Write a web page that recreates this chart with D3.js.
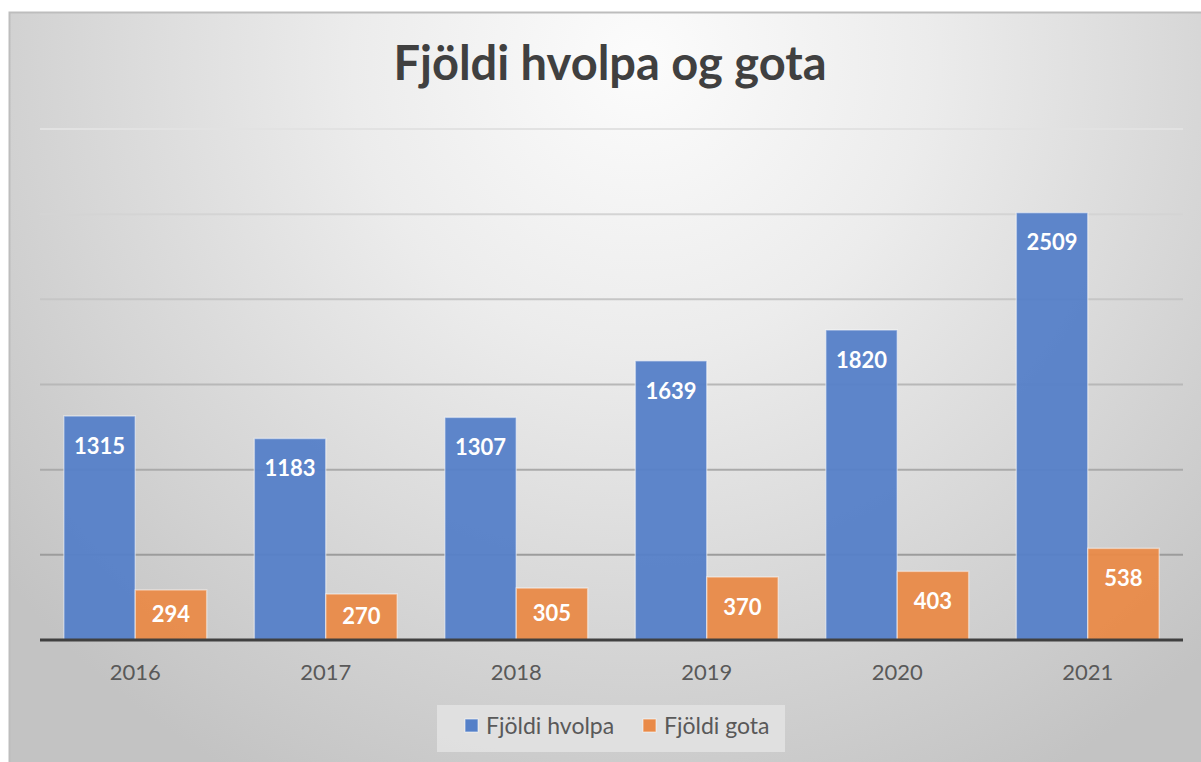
<!DOCTYPE html>
<html>
<head>
<meta charset="utf-8">
<script src="https://cdn.jsdelivr.net/npm/d3@7"></script>
<style>
  body { margin: 0; background: #fff; }
  svg { display: block; }
</style>
</head>
<body>
<div id="chart"></div>
<script>
// Data
const years = ["2016", "2017", "2018", "2019", "2020", "2021"];
const hvolpar = [1315, 1183, 1307, 1639, 1820, 2509];
const gotur = [294, 270, 305, 370, 403, 538];
const seriesNames = ["Fjöldi hvolpa", "Fjöldi gota"];
const seriesColors = ["#5580c8", "#e98a48"];
const yTicks = [0, 500, 1000, 1500, 2000, 2500, 3000];

const W = 1201, H = 762;
const font = "Lato, 'Open Sans', sans-serif";

const svg = d3.select("#chart")
    .append("svg")
    .attr("width", W)
    .attr("height", H);

// Background gradient
const defs = svg.append("defs");
const grad = defs.append("radialGradient")
    .attr("id", "bg")
    .attr("gradientUnits", "userSpaceOnUse")
    .attr("cx", 640).attr("cy", 60).attr("r", 820);
grad.append("stop").attr("offset", "0").attr("stop-color", "#fcfcfc");
grad.append("stop").attr("offset", "0.35").attr("stop-color", "#ececec");
grad.append("stop").attr("offset", "1").attr("stop-color", "#c3c3c3");

svg.append("rect")
    .attr("x", 9).attr("y", 12)
    .attr("width", W - 9).attr("height", H - 12)
    .attr("fill", "url(#bg)");
// thin border top / left
svg.append("path")
    .attr("d", `M9.5,${H} V12.5 H${W}`)
    .attr("fill", "none")
    .attr("stroke", "#bdbdbd")
    .attr("stroke-width", 2);

// Scales
const x0 = d3.scaleBand()
    .domain(years)
    .range([40, 1183])
    .paddingInner(0.25)
    .paddingOuter(0.125);

const x1 = d3.scaleBand()
    .domain([0, 1])
    .range([0, x0.bandwidth()]);

const y = d3.scaleLinear()
    .domain([0, 3000])
    .range([640, 129]);

// Gridlines, colour darker lower down
const gridColor = d3.scaleLinear()
    .domain([129, 555])
    .range(["#e2e2e2", "#9c9c9c"]);

svg.append("g")
    .selectAll("line")
    .data(yTicks.filter(d => d > 0))
    .enter().append("line")
    .attr("x1", 40).attr("x2", 1183)
    .attr("y1", d => y(d)).attr("y2", d => y(d))
    .attr("stroke", d => gridColor(y(d)))
    .attr("stroke-width", 2);

// Bars
const series = [hvolpar, gotur];
const groups = svg.append("g")
    .selectAll("g")
    .data(series)
    .enter().append("g");

groups.selectAll("rect")
    .data((s, si) => s.map((v, i) => ({ v, i, si })))
    .enter().append("rect")
    .attr("x", d => x0(years[d.i]) + x1(d.si))
    .attr("y", d => y(d.v))
    .attr("width", x1.bandwidth())
    .attr("height", d => y(0) - y(d.v))
    .attr("fill", d => seriesColors[d.si])
    .attr("fill-opacity", 0.95)
    .attr("stroke", "rgba(255,255,255,0.45)")
    .attr("stroke-width", 1.5);

// Data labels (inside end)
groups.selectAll("text")
    .data((s, si) => s.map((v, i) => ({ v, i, si })))
    .enter().append("text")
    .attr("x", d => x0(years[d.i]) + x1(d.si) + x1.bandwidth() / 2)
    .attr("y", d => Math.min(y(d.v) + 30, (y(d.v) + y(0)) / 2 - 1))
    .attr("dy", "0.35em")
    .attr("text-anchor", "middle")
    .attr("fill", "#fff")
    .style("font-family", font)
    .style("font-weight", "bold")
    .style("font-size", "22px")
    .text(d => d.v);

// Baseline axis
svg.append("line")
    .attr("x1", 40).attr("x2", 1183)
    .attr("y1", y(0)).attr("y2", y(0))
    .attr("stroke", "#404040")
    .attr("stroke-width", 3);

// X axis labels
const xAxis = svg.append("g")
    .attr("transform", `translate(0,${y(0)})`)
    .call(d3.axisBottom(x0).tickSize(0).tickPadding(24));
xAxis.select(".domain").remove();
xAxis.selectAll("text")
    .attr("fill", "#595959")
    .style("font-family", font)
    .style("font-size", "22px");

// Title
svg.append("text")
    .attr("x", 610)
    .attr("y", 80)
    .attr("text-anchor", "middle")
    .attr("fill", "#404040")
    .style("font-family", font)
    .style("font-weight", "bold")
    .style("font-size", "47px")
    .text("Fjöldi hvolpa og gota");

// Legend
const legend = svg.append("g");
legend.append("rect")
    .attr("x", 437).attr("y", 705)
    .attr("width", 348).attr("height", 47)
    .attr("fill", "#e3e3e3")
    .attr("fill-opacity", 0.85);

const legendX = [465, 643];
seriesNames.forEach((name, i) => {
    legend.append("rect")
        .attr("x", legendX[i]).attr("y", 719)
        .attr("width", 13).attr("height", 13)
        .attr("fill", seriesColors[i])
        .attr("stroke", "rgba(255,255,255,0.6)");
    legend.append("text")
        .attr("x", legendX[i] + 21)
        .attr("y", 726)
        .attr("dy", "0.35em")
        .attr("fill", "#595959")
        .style("font-family", font)
        .style("font-size", "23px")
        .text(name);
});
</script>
</body>
</html>
